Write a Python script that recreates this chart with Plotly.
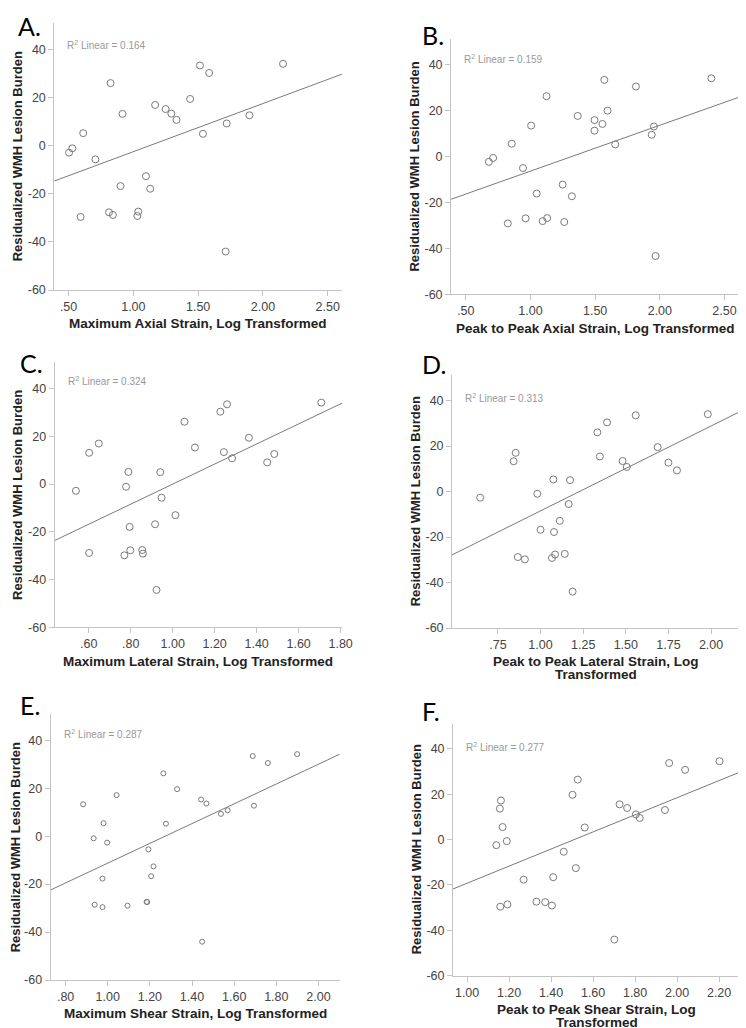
import plotly.graph_objects as go

W, H = 746, 1028

# ---------------- data ----------------
panel_letters = ["A.", "B.", "C.", "D.", "E.", "F."]
x_titles = [
    ["Maximum Axial Strain, Log Transformed"],
    ["Peak to Peak Axial Strain, Log Transformed"],
    ["Maximum Lateral Strain, Log Transformed"],
    ["Peak to Peak Lateral Strain, Log", "Transformed"],
    ["Maximum Shear Strain, Log Transformed"],
    ["Peak to Peak Shear Strain, Log", "Transformed"],
]
y_title = "Residualized WMH Lesion Burden"
r2_labels = ["0.164", "0.159", "0.324", "0.313", "0.287", "0.277"]

a_x = [0.504, 0.529, 0.613, 0.707, 0.593, 0.824, 0.916, 0.901, 0.812, 0.842, 1.031, 1.038, 1.097,
       1.130, 1.168, 1.249, 1.293, 1.333, 1.438, 1.514, 1.585, 1.537, 1.720, 1.712, 1.896, 2.155]
a_y = [-2.9, -1.1, 5.2, -5.7, -29.6, 26.0, 13.2, -16.8, -27.7, -28.8, -29.2, -27.4, -12.7,
       -17.9, 16.9, 15.2, 13.3, 10.7, 19.4, 33.3, 30.2, 4.9, 9.2, -44.0, 12.6, 34.0]

b_x = [0.678, 0.711, 0.855, 0.942, 0.825, 1.124, 1.005, 1.048, 0.962, 1.094, 1.261, 1.129, 1.249,
       1.320, 1.365, 1.495, 1.556, 1.495, 1.596, 1.571, 1.815, 1.655, 1.937, 1.967, 1.954, 2.398]
b_y = [-2.3, -0.6, 5.6, -5.0, -29.1, 26.3, 13.5, -16.1, -26.9, -28.1, -28.5, -26.8, -12.2,
       -17.3, 17.7, 15.9, 14.2, 11.3, 20.0, 33.4, 30.5, 5.3, 9.5, -43.3, 13.1, 34.1]

c_x = [0.539, 0.602, 0.648, 0.602, 0.789, 0.778, 0.795, 0.770, 0.798, 0.855, 0.858, 0.916, 0.941,
       0.947, 1.013, 0.923, 1.056, 1.106, 1.227, 1.259, 1.244, 1.283, 1.363, 1.450, 1.484, 1.708]
c_y = [-2.8, 13.1, 17.0, -28.8, 5.1, -1.1, -17.9, -29.8, -27.7, -27.6, -29.1, -16.8, 5.0,
       -5.7, -13.0, -44.3, 26.1, 15.3, 30.3, 33.4, 13.4, 10.8, 19.4, 9.1, 12.6, 34.1]

d_x = [0.646, 0.854, 0.842, 0.867, 0.908, 0.981, 1.000, 1.075, 1.079, 1.085, 1.067, 1.113, 1.142,
       1.165, 1.173, 1.188, 1.333, 1.390, 1.348, 1.481, 1.506, 1.558, 1.687, 1.750, 1.800, 1.981]
d_y = [-2.7, 17.0, 13.3, -28.8, -29.8, -1.0, -16.8, 5.3, -17.8, -27.7, -29.2, -12.9, -27.4,
       -5.5, 5.0, -44.0, 26.0, 30.4, 15.4, 13.4, 10.8, 33.5, 19.5, 12.7, 9.3, 34.0]

e_x = [0.883, 1.042, 0.980, 0.933, 0.997, 0.975, 0.938, 0.975, 1.094, 1.187, 1.193, 1.217, 1.206,
       1.264, 1.276, 1.329, 1.443, 1.468, 1.448, 1.537, 1.569, 1.688, 1.694, 1.760, 1.899, 1.184]
e_y = [13.3, 17.1, 5.4, -0.9, -2.7, -17.7, -28.6, -29.6, -29.0, -27.5, -5.5, -12.6, -16.7,
       26.2, 5.2, 19.6, 15.3, 13.6, -44.0, 9.3, 10.8, 33.4, 12.7, 30.5, 34.2, -27.4]

f_x = [1.139, 1.161, 1.156, 1.169, 1.189, 1.158, 1.192, 1.269, 1.330, 1.372, 1.404, 1.410, 1.460,
       1.518, 1.502, 1.527, 1.560, 1.701, 1.726, 1.762, 1.804, 1.822, 1.942, 1.962, 2.038, 2.202]
f_y = [-2.5, 17.2, 13.6, 5.5, -0.7, -29.6, -28.6, -17.7, -27.4, -27.6, -29.1, -16.6, -5.4,
       -12.6, 19.7, 26.4, 5.3, -44.1, 15.5, 13.9, 11.1, 9.5, 13.0, 33.7, 30.7, 34.5]

# fitted line (intercept, slope)
fit_intercepts = [-22.5, -26.3, -42.0, -45.8, -52.5, -56.96]
fit_slopes = [20.0, 19.97, 42.0, 37.3, 41.25, 37.7]

x_tickvals = [
    [0.5, 1.0, 1.5, 2.0, 2.5],
    [0.5, 1.0, 1.5, 2.0, 2.5],
    [0.6, 0.8, 1.0, 1.2, 1.4, 1.6, 1.8],
    [0.75, 1.0, 1.25, 1.5, 1.75, 2.0],
    [0.8, 1.0, 1.2, 1.4, 1.6, 1.8, 2.0],
    [1.0, 1.2, 1.4, 1.6, 1.8, 2.0, 2.2],
]
x_ticktext = [
    [".50", "1.00", "1.50", "2.00", "2.50"],
    [".50", "1.00", "1.50", "2.00", "2.50"],
    [".60", ".80", "1.00", "1.20", "1.40", "1.60", "1.80"],
    [".75", "1.00", "1.25", "1.50", "1.75", "2.00"],
    [".80", "1.00", "1.20", "1.40", "1.60", "1.80", "2.00"],
    ["1.00", "1.20", "1.40", "1.60", "1.80", "2.00", "2.20"],
]
y_tickvals = [-60, -40, -20, 0, 20, 40]
y_ticktext = ["-60", "-40", "-20", "0", "20", "40"]

xs = [a_x, b_x, c_x, d_x, e_x, f_x]
ys = [a_y, b_y, c_y, d_y, e_y, f_y]

# ---------------- layout (pixel geometry) ----------------
x_ranges = [[0.39, 2.61], [0.386, 2.62], [0.4375, 1.808], [0.481, 2.17], [0.729, 2.101], [0.933, 2.303]]
y_range = [-60, 51]
# left, right, top, bottom in pixels
boxes = [
    (47, 339, 15, 284),
    (449.7, 743, 31.7, 288.3),
    (47.3, 339.3, 356.7, 623.7),
    (450.7, 743, 370, 624.3),
    (43.3, 336.7, 710.7, 978.7),
    (451.7, 743.7, 720.7, 974.3),
]
label_pos = [(8, 1), (418, 10), (10, 340), (418, 341), (10, 685), (418, 691)]
r2_y = [41.8, 42.6, 43.2, 41.0, 42.4, 40.8]
marker_sizes = [7, 7, 7, 7, 5, 7]

AXIS_COL = "#c4c4c4"
PT_COL = "#7a7a7a"
FONT = "Liberation Sans, Arial, sans-serif"

fig = go.Figure()
annotations = []

for i in range(6):
    n = "" if i == 0 else str(i + 1)
    xa, ya = "x" + n, "y" + n
    l, r, t, b = boxes[i]
    dom_x = [l / W, r / W]
    dom_y = [1 - b / H, 1 - t / H]

    fig.add_trace(go.Scatter(
        x=xs[i], y=ys[i], mode="markers", xaxis=xa, yaxis=ya,
        marker=dict(symbol="circle-open", size=marker_sizes[i], color=PT_COL, line=dict(width=1)),
        showlegend=False, hoverinfo="skip"))

    x0, x1 = x_ranges[i]
    fig.add_trace(go.Scatter(
        x=[x0, x1],
        y=[fit_intercepts[i] + fit_slopes[i] * x0, fit_intercepts[i] + fit_slopes[i] * x1],
        mode="lines", xaxis=xa, yaxis=ya, line=dict(color="#7a7a7a", width=1),
        showlegend=False, hoverinfo="skip"))

    common = dict(showgrid=False, zeroline=False, showline=True, linecolor=AXIS_COL, linewidth=1,
                  ticks="outside", ticklen=5, tickcolor=AXIS_COL, tickwidth=1,
                  tickfont=dict(family=FONT, size=12.5, color="#444444"))
    fig.layout["xaxis" + n] = dict(domain=dom_x, range=x_ranges[i], anchor=ya,
                                   tickmode="array", tickvals=x_tickvals[i], ticktext=x_ticktext[i],
                                   **common)
    fig.layout["yaxis" + n] = dict(domain=dom_y, range=y_range, anchor=xa,
                                   tickmode="array", tickvals=y_tickvals, ticktext=y_ticktext,
                                   **common)

    # x axis title lines
    for k, line in enumerate(x_titles[i]):
        annotations.append(dict(
            text="<b>" + line + "</b>", xref="x" + n + " domain", yref="paper",
            x=0.5, y=1 - (b + 34 + 13 * k) / H, xanchor="center", yanchor="middle", showarrow=False,
            font=dict(family=FONT, size=13.5, color="#222222")))
    annotations.append(dict(
        text="<b>" + y_title + "</b>", xref="paper", yref="y" + n + " domain",
        x=max(l - 37, 8.5) / W, y=0.5, xanchor="center", yanchor="middle", textangle=-90,
        showarrow=False, font=dict(family=FONT, size=13, color="#222222")))
    # R2 label
    annotations.append(dict(
        text="R<sup>2</sup> Linear = " + r2_labels[i], xref="x" + n + " domain", yref=ya,
        x=0, y=r2_y[i], xshift=11, xanchor="left", yanchor="middle", showarrow=False,
        font=dict(family=FONT, size=10, color="#999999")))
    # panel letter
    lx, ly = label_pos[i]
    annotations.append(dict(
        text=panel_letters[i], xref="paper", yref="paper", x=lx / W, y=1 - ly / H,
        xanchor="left", yanchor="top", showarrow=False,
        font=dict(family="Lato, Open Sans, sans-serif", size=25, color="#000000")))

fig.update_layout(width=W, height=H, margin=dict(l=0, r=0, t=0, b=0),
                  paper_bgcolor="white", plot_bgcolor="white", annotations=annotations)

fig.write_html("out.html")
